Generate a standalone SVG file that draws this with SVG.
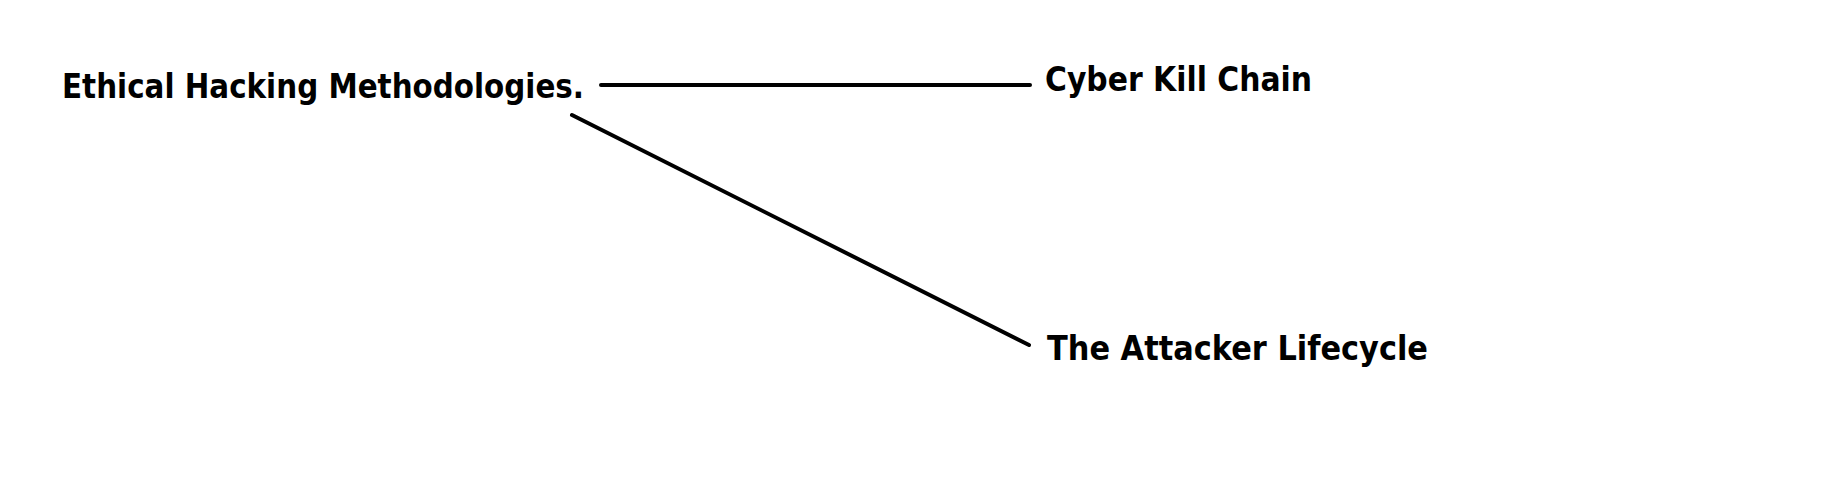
<svg xmlns="http://www.w3.org/2000/svg" width="1838" height="495" viewBox="0 0 1838 495">
<style>
.lbl{font-family:"DejaVu Sans","Noto Sans",sans-serif;font-weight:bold;font-size:34px;fill:#000}
.edge{stroke:#000;stroke-width:4;stroke-linecap:round;fill:none}
</style>
<rect width="1838" height="495" fill="#fff"/>
<g id="connectors">
<line class="edge" x1="601" y1="85" x2="1030" y2="85"/>
<line class="edge" x1="572" y1="115" x2="1029" y2="345"/>
</g>
<g id="node-ethical">
<text class="lbl" x="62" y="98" textLength="522" lengthAdjust="spacingAndGlyphs">Ethical Hacking Methodologies.</text>
</g>
<g id="node-ckc">
<text class="lbl" x="1045" y="91" textLength="267" lengthAdjust="spacingAndGlyphs">Cyber Kill Chain</text>
</g>
<g id="node-tal">
<text class="lbl" x="1047" y="360" textLength="381" lengthAdjust="spacingAndGlyphs">The Attacker Lifecycle</text>
</g>
</svg>
